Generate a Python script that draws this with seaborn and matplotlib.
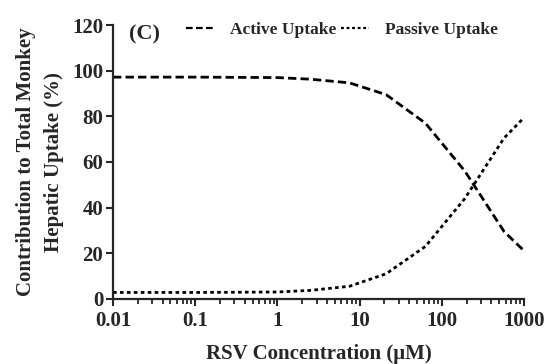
import matplotlib
matplotlib.use("Agg")
import matplotlib.pyplot as plt
import matplotlib.ticker as mticker
import seaborn as sns
import pandas as pd

conc = [0.01, 0.1, 1, 2.5, 7.5, 21, 63, 190, 570, 1000]
active = [97.2, 97.2, 97.0, 96.3, 94.7, 89.5, 77.0, 56.0, 29.5, 21.0]
passive = [2.8, 2.8, 3.0, 3.7, 5.5, 11.0, 23.0, 44.0, 70.5, 79.5]
series_names = ["Active Uptake", "Passive Uptake"]
x_ticks = [0.01, 0.1, 1, 10, 100, 1000]
x_ticklabels = ["0.01", "0.1", "1", "10", "100", "1000"]
y_ticks = [0, 20, 40, 60, 80, 100, 120]

df = pd.DataFrame({
    "conc": conc * 2,
    "value": active + passive,
    "series": [series_names[0]] * len(conc) + [series_names[1]] * len(conc),
})

sns.set_style("ticks")
plt.rcParams["font.family"] = ["Liberation Serif", "DejaVu Serif"]
plt.rcParams["font.weight"] = "bold"

fig = plt.figure(figsize=(5.46, 3.64), dpi=100)
ax = fig.add_axes([0.207, 0.179, 0.753, 0.752])

sns.lineplot(data=df, x="conc", y="value", style="series", color="black",
             dashes={series_names[0]: (3, 1.5), series_names[1]: (1.3, 1.2)},
             linewidth=2.0, ax=ax, legend=True)
for ln in ax.get_lines():
    ln.set_dash_capstyle("butt")

ax.set_xscale("log")
ax.set_xlim(0.01, 1000)
ax.set_ylim(0, 120)
ax.set_xticks(x_ticks)
ax.set_xticklabels(x_ticklabels)
ax.xaxis.set_minor_locator(mticker.LogLocator(base=10, subs=[2, 3, 4, 5, 6, 7, 8, 9]))
ax.xaxis.set_minor_formatter(mticker.NullFormatter())
ax.set_yticks(y_ticks)

sns.despine(ax=ax)
for s in ["left", "bottom"]:
    ax.spines[s].set_linewidth(1.6)
ax.tick_params(axis="both", which="major", length=5, width=1.5, labelsize=15, pad=2)
ax.tick_params(axis="x", which="major", pad=4)
ax.tick_params(axis="x", which="minor", length=3.5, width=1.3)
for lab in ax.get_xticklabels() + ax.get_yticklabels():
    lab.set_fontweight("bold")

ax.set_xlabel("RSV Concentration (\u03bcM)", fontsize=15, fontweight="bold", labelpad=9)
ax.set_ylabel("Contribution to Total Monkey\nHepatic Uptake (%)", fontsize=15,
              fontweight="bold", labelpad=6, linespacing=1.5)

handles, labels = ax.get_legend_handles_labels()
leg = ax.legend(handles, labels, ncol=2, frameon=False, loc="upper left",
                bbox_to_anchor=(0.14, 1.07), prop={"weight": "bold", "size": 12.5},
                handlelength=1.6, columnspacing=0.3, handletextpad=0.9)
for h in leg.get_lines():
    h.set_linewidth(1.6)
ax.text(0.04, 0.965, "(C)", transform=ax.transAxes, fontsize=16, fontweight="bold",
        va="center", ha="left")

fig.savefig("out.png", dpi=100)
